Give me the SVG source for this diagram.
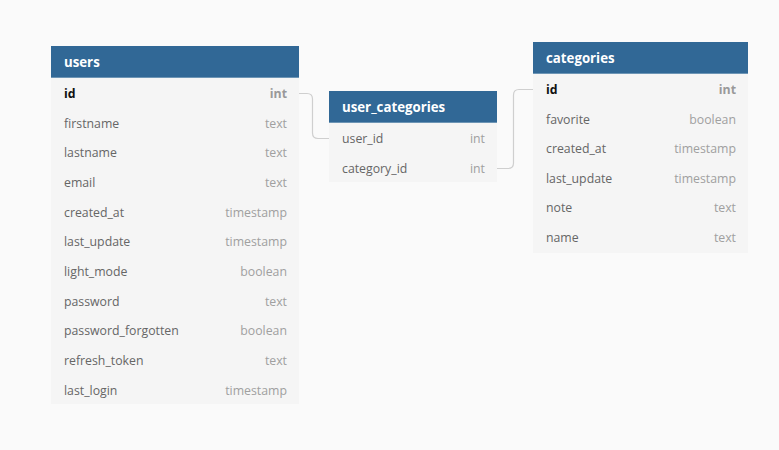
<svg xmlns="http://www.w3.org/2000/svg" width="779" height="450" viewBox="0 0 779 450">
<style>
.body{fill:#f5f5f5}
.hdr{fill:#316896}
.hline{stroke:#6d95b5;stroke-width:1}
.title{font-family:"Open Sans","Noto Sans",sans-serif;font-size:13.25px;font-weight:bold;fill:#ffffff}
.f{font-family:"Open Sans","Noto Sans",sans-serif;font-size:12.3px;fill:#666666}
.t{font-family:"Open Sans","Noto Sans",sans-serif;font-size:12.3px;fill:#a0a0a0;text-anchor:end}
.pk{font-family:"Open Sans","Noto Sans",sans-serif;font-size:12.3px;font-weight:bold;fill:#111111}
.pkt{font-family:"Open Sans","Noto Sans",sans-serif;font-size:12.3px;font-weight:bold;fill:#999999;text-anchor:end}
.conn{fill:none;stroke:#cfcfcf;stroke-width:1.2}
</style>
<rect width="779" height="450" fill="#fafafa"/>
<g id="connectors">
<path class="conn" d="M299,93.5 H307 Q312.5,93.5 312.5,99 V133 Q312.5,138.5 318,138.5 H329"/>
<path class="conn" d="M497,168.5 H508 Q513.5,168.5 513.5,163 V95 Q513.5,89.5 519,89.5 H533"/>
</g>
<g id="users">
<rect class="body" x="51" y="46" width="248" height="358"/>
<rect class="hdr" x="51" y="46" width="248" height="32"/>
<line class="hline" x1="51" y1="77.5" x2="299" y2="77.5"/>
<text class="title" x="64" y="67">users</text>
<text class="pk" x="64" y="97.5">id</text><text class="pkt" x="287" y="97.5">int</text>
<text class="f" x="64" y="127.5">firstname</text><text class="t" x="287" y="127.5">text</text>
<text class="f" x="64" y="156.5">lastname</text><text class="t" x="287" y="156.5">text</text>
<text class="f" x="64" y="186.5">email</text><text class="t" x="287" y="186.5">text</text>
<text class="f" x="64" y="216.5">created_at</text><text class="t" x="287" y="216.5">timestamp</text>
<text class="f" x="64" y="245.5">last_update</text><text class="t" x="287" y="245.5">timestamp</text>
<text class="f" x="64" y="275.5">light_mode</text><text class="t" x="287" y="275.5">boolean</text>
<text class="f" x="64" y="305.5">password</text><text class="t" x="287" y="305.5">text</text>
<text class="f" x="64" y="334.5">password_forgotten</text><text class="t" x="287" y="334.5">boolean</text>
<text class="f" x="64" y="364.5">refresh_token</text><text class="t" x="287" y="364.5">text</text>
<text class="f" x="64" y="394.5">last_login</text><text class="t" x="287" y="394.5">timestamp</text>
</g>
<g id="user_categories">
<rect class="body" x="329" y="91" width="168" height="91"/>
<rect class="hdr" x="329" y="91" width="168" height="32"/>
<line class="hline" x1="329" y1="122.5" x2="497" y2="122.5"/>
<text class="title" x="342" y="111.5">user_categories</text>
<text class="f" x="342" y="142.5">user_id</text><text class="t" x="485" y="142.5">int</text>
<text class="f" x="342" y="172.5">category_id</text><text class="t" x="485" y="172.5">int</text>
</g>
<g id="categories">
<rect class="body" x="533" y="42" width="215" height="211"/>
<rect class="hdr" x="533" y="42" width="215" height="32"/>
<line class="hline" x1="533" y1="73.5" x2="748" y2="73.5"/>
<text class="title" x="546" y="62.5">categories</text>
<text class="pk" x="546" y="93.5">id</text><text class="pkt" x="736" y="93.5">int</text>
<text class="f" x="546" y="123.5">favorite</text><text class="t" x="736" y="123.5">boolean</text>
<text class="f" x="546" y="152.5">created_at</text><text class="t" x="736" y="152.5">timestamp</text>
<text class="f" x="546" y="182.5">last_update</text><text class="t" x="736" y="182.5">timestamp</text>
<text class="f" x="546" y="211.5">note</text><text class="t" x="736" y="211.5">text</text>
<text class="f" x="546" y="241.5">name</text><text class="t" x="736" y="241.5">text</text>
</g>
</svg>
